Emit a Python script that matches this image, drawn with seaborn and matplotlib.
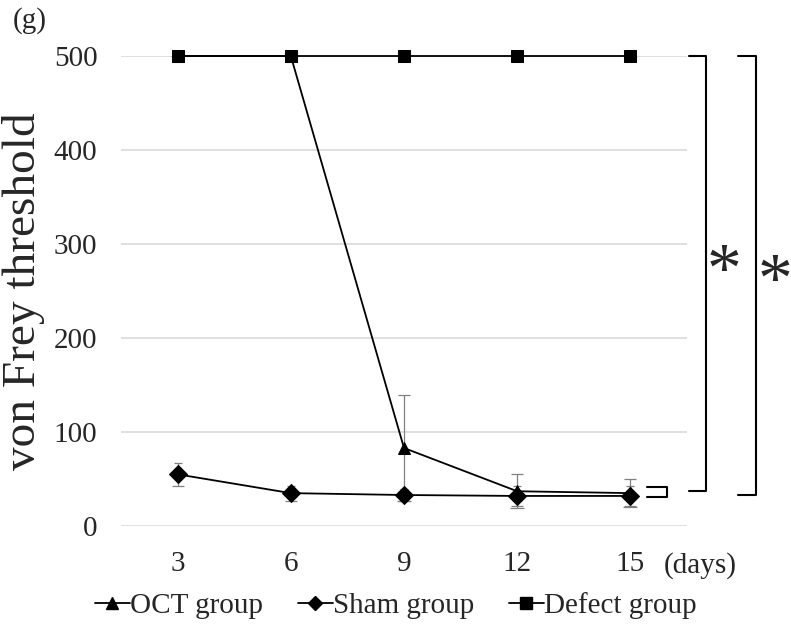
import matplotlib
matplotlib.use('Agg')
import matplotlib.pyplot as plt
import numpy as np
import pandas as pd
import seaborn as sns

days = [3, 6, 9, 12, 15]
oct_mean = [500, 500, 83, 37, 35]
oct_err = [0, 0, 56, 18, 15]
sham_mean = [55, 35, 33, 32, 32]
sham_err = [12, 8, 6, 11, 11]
defect_mean = [500, 500, 500, 500, 500]
defect_err = [0, 0, 0, 0, 0]
groups = ['OCT group', 'Sham group', 'Defect group']

df = pd.DataFrame({
    'day': days * 3,
    'value': oct_mean + sham_mean + defect_mean,
    'err': oct_err + sham_err + defect_err,
    'group': [g for g in groups for _ in days],
})

sns.set_style('white')
plt.rcParams['font.family'] = ['Liberation Serif', 'DejaVu Serif']

fig = plt.figure(figsize=(7.91, 6.34), dpi=100)
ax = fig.add_axes([0.153, 0.1703, 0.7155, 0.7414])

# error bars first (grey, thin, capped)
for g in groups:
    d = df[df.group == g]
    ax.errorbar(d.day, d.value, yerr=d.err, fmt='none', ecolor='#808080',
                elinewidth=0.9, capsize=3, capthick=0.9, zorder=2)

sns.lineplot(data=df, x='day', y='value', hue='group', style='group',
             hue_order=groups, style_order=groups,
             palette=['black'] * 3, dashes=False,
             markers={'OCT group': '^', 'Sham group': 'D', 'Defect group': 's'},
             markersize=9, markeredgecolor='black', linewidth=1.3,
             ax=ax, zorder=3, clip_on=False, legend=False)
for ln, ms in zip(ax.lines, [10, 8, 9]):
    ln.set_markersize(ms)

ax.set_xlim(1.5, 16.5)
ax.set_ylim(0, 500)
ax.set_xticks(days)
ax.set_yticks([0, 100, 200, 300, 400, 500])
ax.tick_params(axis='both', labelsize=21, length=0)
ax.tick_params(axis='x', pad=18)
ax.tick_params(axis='y', pad=17)
ax.yaxis.grid(True, color='#d9d9d9', linewidth=1.2)
ax.xaxis.grid(False)
for s in ax.spines.values():
    s.set_visible(False)
ax.set_xlabel('')
ax.set_ylabel('von Frey threshold', fontsize=34)
ax.yaxis.set_label_coords(-0.135, 0.5)

fig.text(0.038, 0.968, '(g)', fontsize=21, ha='center', va='center')
fig.text(0.885, 0.108, '(days)', fontsize=21, ha='center', va='center')

# significance brackets
kw = dict(color='black', lw=1.5, clip_on=False)
top = max(defect_mean)
y_oct_end, y_sham_end = oct_mean[-1], sham_mean[-1]
ax.plot([15.44, 15.97, 15.97, 15.44], [y_oct_end + 6, y_oct_end + 6, y_sham_end - 1, y_sham_end - 1], **kw)
mid = (y_oct_end + y_sham_end) / 2 + 4
ax.plot([16.55, 17.0, 17.0, 16.55], [mid, mid, top, top], **kw)
ax.plot([17.85, 18.33, 18.33, 17.85], [y_sham_end + 1, y_sham_end + 1, top, top], **kw)
ax.text(17.48, 268, '*', fontsize=50, ha='center', va='center', clip_on=False)
ax.text(18.83, 257, '*', fontsize=50, ha='center', va='center', clip_on=False)

handles = [plt.Line2D([], [], color='black', lw=1.3, marker=m, markersize=s)
           for m, s in zip(['^', 'D', 's'], [9, 7, 8])]
fig.legend(handles, groups, loc='center', bbox_to_anchor=(0.5, 0.045), ncol=3,
           frameon=False, fontsize=21, handlelength=1.2, handletextpad=0.0,
           columnspacing=1.2)

fig.savefig('out.png', dpi=100)
